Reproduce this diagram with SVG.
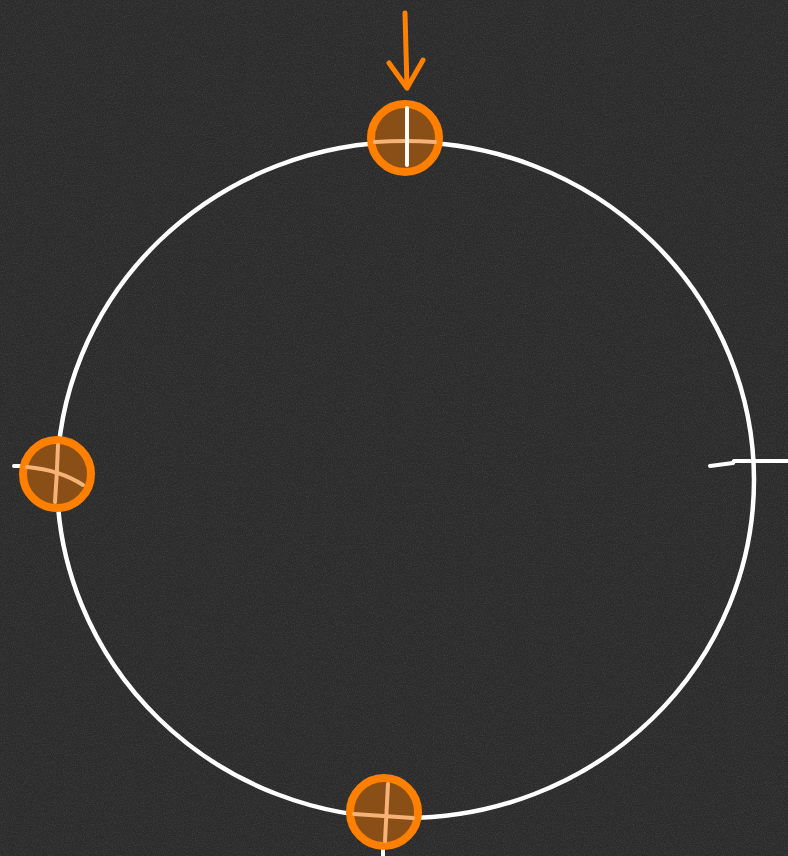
<svg xmlns="http://www.w3.org/2000/svg" width="788" height="856" viewBox="0 0 788 856">
  <defs>
    <filter id="grain" x="0" y="0" width="100%" height="100%">
      <feTurbulence type="fractalNoise" baseFrequency="0.9" numOctaves="2" seed="3" result="n"/>
      <feColorMatrix type="matrix" values="0 0 0 0 1  0 0 0 0 1  0 0 0 0 1  0 0 0 0.9 -0.35" in="n"/>
    </filter>
  </defs>
  <style>
    .bg { fill: #2b2b2b; }
    .ring { fill: none; stroke: #ffffff; stroke-width: 4.5; }
    .wire { fill: none; stroke: #ffffff; stroke-width: 4; stroke-linecap: round; stroke-linejoin: round; }
    .node { fill: #8a4f16; stroke: #ff8000; stroke-width: 8; }
    .cross { fill: none; stroke: #f6b277; stroke-width: 4; stroke-linecap: round; }
    .cross-w { fill: none; stroke: #ffffff; stroke-width: 4; stroke-linecap: round; }
    .arrow { fill: none; stroke: #ff8000; stroke-width: 5; stroke-linecap: round; stroke-linejoin: round; }
  </style>
  <rect class="bg" x="0" y="0" width="788" height="856"/>
  <rect x="0" y="0" width="788" height="856" filter="url(#grain)" opacity="0.2"/>

  <g id="connectors">
    <ellipse class="ring" cx="405.5" cy="480" rx="348.5" ry="338"/>
    <path class="wire" d="M710 466 L733 463 L734 461 L788 461"/>
    <path class="wire" d="M14 466 L22 466"/>
    <path class="wire" d="M383 846 L383 858"/>
    <path class="arrow" d="M405 13 L407 88 M389 63 L407 88 L423 60"/>
  </g>

  <g id="node-top">
    <circle class="node" cx="405" cy="138" r="34"/>
    <path class="cross" d="M375 142 Q405 140 435 142"/>
    <path class="cross-w" d="M407 108 L407 165"/>
  </g>

  <g id="node-left">
    <circle class="node" cx="57" cy="474" r="34"/>
    <path class="cross" d="M58 445 Q57 475 55 502"/>
    <path class="cross" d="M27 467 Q60 470 83 485"/>
  </g>

  <g id="node-bottom">
    <circle class="node" cx="384" cy="812" r="34"/>
    <path class="cross" d="M388 784 L385 841"/>
    <path class="cross" d="M354 814 L413 818"/>
  </g>
</svg>
